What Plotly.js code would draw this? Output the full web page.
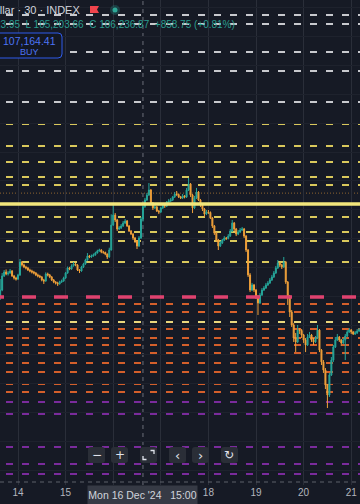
<!DOCTYPE html>
<html><head><meta charset="utf-8">
<script src="https://cdn.plot.ly/plotly-3.0.1.min.js"></script>
<style>html,body{margin:0;padding:0;background:#161a25;}#chart{width:360px;height:504px;}</style>
</head><body><div id="chart"></div>
<script>
// ---- data (hourly candles, Bitcoin / U.S. Dollar INDEX) ----
const startTime = '2024-12-13 15:00';
const firstOpen = 99930;
const closes = [
100480,101450,101720,101590,101650,101790,101450,101310,101240,101520,
102410,102210,102070,102000,101860,101790,101720,101650,101520,101450,
101380,101170,101100,101590,101520,101380,101170,101030,100960,100900,
101030,101100,101310,101650,102000,101930,102140,102280,102210,101860,
101790,102070,102280,102550,102830,102760,102830,102900,103030,103170,
103240,103100,103080,102960,102760,103240,104960,105650,105310,104690,
104760,104900,105100,105240,104900,104550,104340,104070,103860,103520,
104070,105378.12,106236.87,106690,107030,107380,106480,106140,106210,105930,
105860,106140,106340,106280,106550,106620,106690,106900,107100,107070,
106900,106830,106970,106900,107380,107790,107030,106140,106830,107240,
106690,106340,106070,105720,105860,105830,105450,104900,104410,103930,
103520,103720,103930,104070,104040,104200,104550,105100,104690,104340,
104480,104620,104690,104200,103240,101520,100480,100830,100480,100000,
99590,100140,100480,100620,100830,100960,101170,101380,101650,102000,
102340,102210,102070,102410,101030,100070,98960,98070,97170,96900,
97720,97690,97380,97030,96690,97240,97380,97030,96900,97170,
97720,96340,95520,94960,93930,93240,94620,95650,96550,97030,
97240,97030,96830,97030,97310,97590,97720,97590,97450,97520,
97650,97720];
const highs = [
101240,101650,101860,101900,101790,101930,101860,101520,101400,101600,
102620,102480,102300,102150,102080,101950,101880,101800,101720,101610,
101530,101450,101250,101700,101680,101590,101450,101240,101100,101050,
101120,101200,101400,101720,102100,102080,102250,102410,102340,102260,
101920,102150,102360,102640,103030,102900,102930,103000,103120,103260,
103330,103300,103180,103120,103000,103400,105700,106480,105790,105380,
104900,105030,105240,105380,105310,104960,104620,104410,104140,103930,
104200,105520,106523.95,106830,107170,107860,107450,106550,106340,106280,
106000,106210,106410,106410,106620,106760,106830,106970,107240,107310,
107140,106970,107100,107030,107520,108210,107860,107100,106970,107520,
107310,106760,106410,106140,106000,106000,105900,105520,104960,104480,
104000,103860,104000,104200,104140,104340,104690,105310,105170,104760,
104620,104760,104830,104760,104270,103310,101650,100970,100900,100550,
100140,100280,100620,100760,100970,101100,101310,101520,101790,102140,
102550,102410,102280,102760,102480,101100,100140,99100,98200,97520,
98070,97860,97790,97450,97170,97450,97590,97450,97170,97310,
98070,97790,96410,95650,95100,94000,94760,95860,96690,97240,
97450,97310,97100,97170,97450,97720,97860,97790,97650,97650,
97790,97860];
const lows = [
99790,100400,101380,101500,101480,101600,101380,101200,101130,101170,
101450,102100,101990,101900,101790,101700,101620,101560,101440,101350,
101300,101080,100900,101050,101420,101300,101100,100950,100860,100760,
100850,100970,101050,101250,101600,101850,101880,102100,102120,101790,
101650,101740,102000,102220,102500,102680,102700,102780,102850,103000,
103120,103020,102980,102880,102620,102700,103200,104900,105170,104550,
104620,104690,104830,105030,104830,104480,104270,103930,103720,103310,
103450,104000,105203.66,106140,106620,106970,106340,106000,106070,105860,
105720,105790,106070,106140,106210,106480,106550,106620,106830,106970,
106830,106760,106760,106800,106830,107310,106900,105790,106070,106760,
106620,106210,105930,105520,105650,105720,105380,104760,104280,103790,
103240,103450,103650,103860,103930,103970,104140,104480,104550,104200,
104270,104410,104550,104070,103100,101380,100340,100410,100340,99860,
98760,99520,100070,100410,100550,100760,100900,101100,101310,101590,
101930,102070,101930,102000,100900,99450,98620,97930,96900,96200,
96830,97450,97170,96830,96200,96620,97170,96900,96690,96830,
97100,96200,95310,94760,93650,92340,93100,94550,95520,96480,
96970,96900,96620,96760,95650,97240,97520,97450,97380,97380,
97450,97590];

// horizontal levels
const whiteLevels  = [119450, 118830, 116900, 115590, 113450];
const yellowLevels = [111930, 110410, 109310, 108280, 107720, 105520, 104480, 103860, 102410];
const mainLevel    = 106410;
const roundLevel   = 100000;
const orangeLevels = [99520, 98960, 97790, 97170, 96690, 96140, 95450, 94830, 94000, 93450];
const paleLevel    = 98280;
const purpleLevels = [92760, 91930, 89650, 88480, 87790];
const lastPrice    = 107164.41;

// axis labels
const tickDays   = ['2024-12-14','2024-12-15','2024-12-16','2024-12-17','2024-12-18','2024-12-19','2024-12-20','2024-12-21'];
const tickLabels = ['14','15','','','18','19','20','21'];
const crossTime  = '2024-12-16 15:00';
const crossLabel = "Mon 16 Dec '24   15:00";
const headerTitle = 'Bitcoin / U.S. Dollar · 30 · INDEX';
const headerOHLC  = 'H 106,523.95  L 105,203.66  C 106,236.87  +858.75 (+0.81%)';
const buyPrice = '107,164.41';

// ---- build ----
function pad(n){return (n<10?'0':'')+n;}
const t0 = new Date(startTime.replace(' ','T')+':00Z').getTime();
const times = closes.map((_,i)=>{const d=new Date(t0+i*3600000);
  return d.getUTCFullYear()+'-'+pad(d.getUTCMonth()+1)+'-'+pad(d.getUTCDate())+' '+pad(d.getUTCHours())+':00';});
const opens = closes.map((c,i)=> i===0 ? firstOpen : closes[i-1]);

const W=360, PH=485;
const px = x => x/W;
const py = y => (PH-y)/PH;

const shapes = [];
function level(v,color,width,dash,layer){
  shapes.push({type:'line',xref:'paper',yref:'y',x0:px(-10),x1:1,y0:v,y1:v,
    line:{color:color,width:width,dash:dash},layer:layer||'between'});
}
whiteLevels.forEach(v=>level(v,'#c8c9ce',2,'7px,9px'));
yellowLevels.forEach(v=>level(v,'#d9c85c',2,'7px,9px'));
orangeLevels.forEach(v=>level(v,'#d45f2b',2,'7px,9px'));
level(paleLevel,'#ead77c',2,'7px,9px');
purpleLevels.forEach(v=>level(v,'#7a2b9c',2,'7px,9px'));
level(roundLevel,'#e0426f',3.5,'14px,18px','above');
shapes.push({type:'line',xref:'paper',yref:'y',x0:0,x1:1,y0:lastPrice,y1:lastPrice,
  line:{color:'#8e6530',width:1,dash:'1px,2px'},layer:'between'});
shapes.push({type:'line',xref:'paper',yref:'y',x0:0,x1:1,y0:mainLevel,y1:mainLevel,
  line:{color:'#f3e77c',width:3.5},layer:'above'});
// crosshair
shapes.push({type:'line',xref:'x',yref:'paper',x0:crossTime,x1:crossTime,y0:0,y1:1,
  line:{color:'#6b6e79',width:1,dash:'4px,4px'},layer:'between'});
shapes.push({type:'line',xref:'paper',yref:'paper',x0:0,x1:1,y0:py(482),y1:py(482),
  line:{color:'#5d606b',width:1,dash:'4px,4px'},layer:'above'});

// rounded rect helper (pixel coords -> paper)
function rrect(x0,y0,x1,y1,r){
  const P=(x,y)=>px(x)+','+py(y);
  return 'M'+P(x0+r,y0)+' L'+P(x1-r,y0)+' Q'+P(x1,y0)+' '+P(x1,y0+r)+' L'+P(x1,y1-r)+
    ' Q'+P(x1,y1)+' '+P(x1-r,y1)+' L'+P(x0+r,y1)+' Q'+P(x0,y1)+' '+P(x0,y1-r)+
    ' L'+P(x0,y0+r)+' Q'+P(x0,y0)+' '+P(x0+r,y0)+' Z';
}
// BUY box
shapes.push({type:'path',xref:'paper',yref:'paper',path:rrect(-6,33,62,58,4),
  fillcolor:'#131722',line:{color:'#2f5bea',width:1},layer:'above'});
// toolbar buttons
const btnX = [88,111,140,169,192,221];
btnX.forEach(x=>shapes.push({type:'path',xref:'paper',yref:'paper',path:rrect(x,447,x+17,463,3),
  fillcolor:'rgba(44,47,56,0.96)',line:{width:0},layer:'above'}));
// fullscreen icon corners
(function(){
  const P=(x,y)=>px(x)+','+py(y);
  shapes.push({type:'path',xref:'paper',yref:'paper',path:'M'+P(150.5,450.5)+' L'+P(154,450.5)+' L'+P(154,454),line:{color:'#dfe2ea',width:1.3},layer:'above'});
  shapes.push({type:'path',xref:'paper',yref:'paper',path:'M'+P(143,456)+' L'+P(143,459.5)+' L'+P(146.5,459.5),line:{color:'#dfe2ea',width:1.3},layer:'above'});
})();
// red flag + dot in header
(function(){
  const P=(x,y)=>px(x)+','+py(y);
  shapes.push({type:'path',xref:'paper',yref:'paper',path:'M'+P(90,6)+' L'+P(99,6)+' L'+P(97,9.5)+' L'+P(99,13)+' L'+P(90,13)+' Z',
    fillcolor:'#f0444c',line:{width:0},layer:'above'});
  shapes.push({type:'circle',xref:'paper',yref:'paper',x0:px(110),x1:px(120),y0:py(15),y1:py(5),
    fillcolor:'rgba(38,166,154,0.25)',line:{width:0},layer:'above'});
  shapes.push({type:'circle',xref:'paper',yref:'paper',x0:px(112.5),x1:px(117.5),y0:py(12.5),y1:py(7.5),
    fillcolor:'#2fa898',line:{width:0},layer:'above'});
})();

const FONT = 'Liberation Sans, Arial, sans-serif';
const annotations = [
  {xref:'paper',yref:'paper',x:px(82),y:py(10),xanchor:'right',yanchor:'middle',showarrow:false,
   text:headerTitle,font:{family:FONT,size:11,color:'#d1d4dc'}},
  {xref:'paper',yref:'paper',x:px(237),y:py(24),xanchor:'right',yanchor:'middle',showarrow:false,
   text:headerOHLC,font:{family:FONT,size:10,color:'#2a9d8f'}},
  {xref:'paper',yref:'paper',x:px(29),y:py(41),xanchor:'center',yanchor:'middle',showarrow:false,
   text:buyPrice,font:{family:FONT,size:10.5,color:'#4d74f5'}},
  {xref:'paper',yref:'paper',x:px(29),y:py(52),xanchor:'center',yanchor:'middle',showarrow:false,
   text:'BUY',font:{family:FONT,size:9,color:'#4d74f5'}},
  {xref:'paper',yref:'paper',x:px(142.5),y:py(495),xanchor:'center',yanchor:'middle',showarrow:false,
   text:crossLabel,bgcolor:'#363a45',width:109,height:18,borderpad:0,
   font:{family:FONT,size:10.5,color:'#d1d4dc'}}
];
const btnSym = ['−','+','','‹','›','↻'];
btnSym.forEach((s,i)=>{ if(!s) return;
  annotations.push({xref:'paper',yref:'paper',x:px(btnX[i]+8.5),y:py(455),xanchor:'center',yanchor:'middle',
    showarrow:false,text:s,font:{family:'DejaVu Sans, sans-serif',size:(i===3||i===4)?13:12,color:'#e0e3eb'}});
});

const trace = {
  type:'candlestick', x:times, open:opens, high:highs, low:lows, close:closes,
  increasing:{line:{color:'#26a69a',width:1},fillcolor:'#26a69a'},
  decreasing:{line:{color:'#f0a03a',width:1},fillcolor:'#f0a03a'},
  whiskerwidth:0, hoverinfo:'skip'
};

const layout = {
  width:360, height:504,
  margin:{l:0,r:0,t:0,b:19},
  paper_bgcolor:'#161a25', plot_bgcolor:'#161a25',
  showlegend:false,
  xaxis:{type:'date', range:['2024-12-13 14:55','2024-12-21 04:26'],
    rangeslider:{visible:false}, tickvals:tickDays, ticktext:tickLabels,
    showgrid:true, gridcolor:'#2a2e39', gridwidth:1, zeroline:false, showline:false,
    ticks:'', ticklen:0, tickfont:{family:FONT,size:10,color:'#b2b5be'}, fixedrange:true},
  yaxis:{range:[87033,120483], showticklabels:false, showgrid:true, gridcolor:'#1e222d',
    dtick:2000, tick0:0, zeroline:false, showline:false, ticks:'', fixedrange:true},
  shapes:shapes, annotations:annotations
};
Plotly.newPlot('chart',[trace],layout,{staticPlot:true,displayModeBar:false});
</script>
</body></html>
